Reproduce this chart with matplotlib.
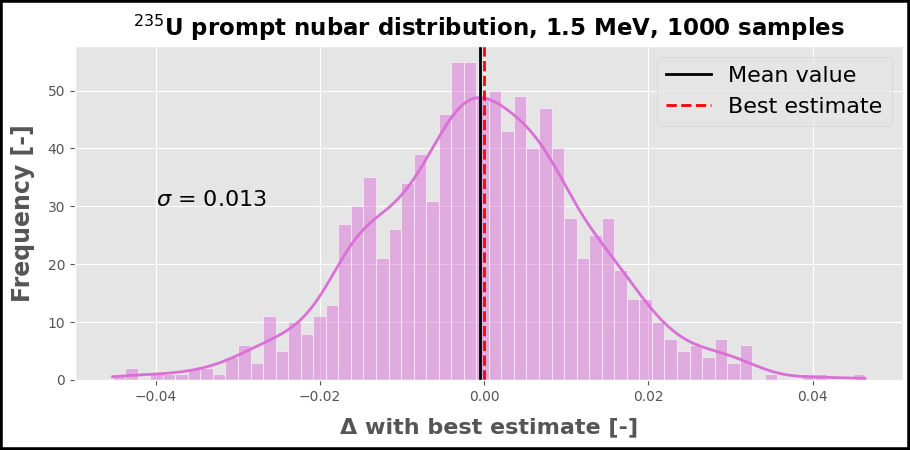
import numpy as np
import matplotlib
matplotlib.use("Agg")
import matplotlib.pyplot as plt
from matplotlib.patches import Rectangle

plt.style.use("ggplot")

# ---- data ----
bin_range = [-0.04524, 0.04638]   # data min / max (histogram range)
counts = [1, 2, 0, 1, 1, 1, 2, 2, 1, 4,
          6, 3, 11, 5, 10, 8, 11, 13, 27, 30,
          35, 21, 26, 34, 39, 31, 46, 55, 55, 49,
          50, 43, 49, 40, 47, 40, 28, 21, 25, 28,
          19, 14, 14, 10, 7, 5, 6, 4, 7, 3,
          6, 0, 1, 0, 0, 1, 1, 0, 0, 1]
mean_value = -0.0005
best_estimate = 0.0
sigma = 0.013
title = r"$^{235}$U prompt nubar distribution, 1.5 MeV, 1000 samples"

counts = np.array(counts)
nbins = len(counts)
edges = np.linspace(bin_range[0], bin_range[1], nbins + 1)
width = edges[1] - edges[0]
centers = 0.5 * (edges[:-1] + edges[1:])

fig = plt.figure(figsize=(9.1, 4.5), dpi=100)
ax = fig.add_axes([0.0824, 0.1556, 0.9096, 0.7428])

ax.bar(edges[:-1], counts, width=width, align="edge",
       color="orchid", alpha=0.5, edgecolor="white", linewidth=0.8)

# KDE (Scott's rule) from the binned data, scaled to counts
samples = np.repeat(centers, counts)
n = samples.size
bw = samples.std(ddof=1) * n ** (-1 / 5)
grid = np.linspace(edges[0], edges[-1], 400)
dens = np.exp(-0.5 * ((grid[:, None] - samples[None, :]) / bw) ** 2).sum(axis=1)
dens /= (n * bw * np.sqrt(2 * np.pi))
ax.plot(grid, dens * n * width, color="orchid", linewidth=2)

ax.axvline(mean_value, color="black", linewidth=2, label="Mean value")
ax.axvline(best_estimate, color="red", linestyle="--", linewidth=2, label="Best estimate")

ax.text(-0.04, 30, r"$\sigma$ = " + f"{sigma:.3f}", fontsize=16, color="black")

ax.set_title(title, fontsize=16.5, fontweight="bold", color="black", pad=7)
ax.set_xlabel("Δ with best estimate [-]", fontsize=16, fontweight="bold", color="#555555",
              labelpad=10)
ax.set_ylabel("Frequency [-]", fontsize=17, fontweight="bold", color="#555555",
              labelpad=9)
ax.tick_params(labelsize=10)
ax.legend(loc="upper right", fontsize=16)

fig.add_artist(Rectangle((0, 0), 1, 1, transform=fig.transFigure, fill=False,
                         edgecolor="black", linewidth=4))

fig.savefig("out.png", dpi=100, facecolor="white")
